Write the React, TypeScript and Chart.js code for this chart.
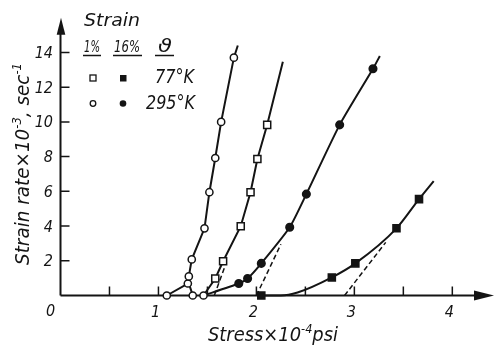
import React, { useEffect, useRef } from "react";
import { Chart, registerables } from "chart.js";

Chart.register(...registerables);

// ---------- data (stress ×10^-4 psi, strain rate ×10^-3 s^-1) ----------
// 1 % strain, 295 K (open circles)
const openCircleX = [1.085, 1.3, 1.31, 1.34, 1.35, 1.46, 1.47, 1.52, 1.58, 1.64, 1.77];
const openCircleY = [0, 0.69, 1.1, 2.08, 0, 0, 3.87, 5.95, 7.92, 10.0, 13.7];
const curve1X = [1.085, 1.3, 1.31, 1.34, 1.47, 1.52, 1.58, 1.64, 1.77, 1.81];
const curve1Y = [0, 0.69, 1.1, 2.08, 3.87, 5.95, 7.92, 10.0, 13.7, 14.4];
const branch1X = [1.35, 1.305];
const branch1Y = [0, 0.8];

// 1 % strain, 77 K (open squares)
const openSquareX = [1.58, 1.66, 1.84, 1.94, 2.01, 2.11];
const openSquareY = [0.98, 1.97, 3.99, 5.95, 7.86, 9.83];
const curve2X = [1.46, 1.58, 1.66, 1.84, 1.94, 2.01, 2.11, 2.27];
const curve2Y = [0, 0.98, 1.97, 3.99, 5.95, 7.86, 9.83, 13.47];
const dash2X = [1.57, 1.68];
const dash2Y = [0, 1.7];

// 16 % strain, 295 K (filled circles)
const filledCircleX = [1.82, 1.91, 2.05, 2.34, 2.51, 2.85, 3.19];
const filledCircleY = [0.69, 0.98, 1.85, 3.93, 5.84, 9.83, 13.06];
const curve3X = [1.46, 1.82, 1.91, 2.05, 2.34, 2.51, 2.85, 3.19, 3.26];
const curve3Y = [0, 0.69, 0.98, 1.85, 3.93, 5.84, 9.83, 13.06, 13.8];
const dash3X = [2.0, 2.25];
const dash3Y = [0, 2.95];

// 16 % strain, 77 K (filled squares)
const filledSquareX = [2.05, 2.77, 3.01, 3.43, 3.66];
const filledSquareY = [0, 1.04, 1.85, 3.87, 5.55];
const curve4X = [2.05, 2.25, 2.42, 2.77, 3.01, 3.43, 3.66, 3.81];
const curve4Y = [0, 0, 0.17, 1.04, 1.85, 3.87, 5.55, 6.59];
const dash4X = [2.9, 3.32];
const dash4Y = [0, 3.06];

// ---------- axes / labels ----------
const xTickValues = [0.5, 1, 1.5, 2, 2.5, 3, 3.5, 4];
const xLabelValues = [1, 2, 3, 4];
const yTickValues = [2, 4, 6, 8, 10, 12, 14];
const originLabel = "0";
const legendTitle = "Strain";
const strainLabels = ["1%", "16%"];
const tempSymbol = "ϑ";
const tempLabels = ["77°K", "295°K"];

const INK = "#141414";
const FONT = '"Liberation Sans Narrow", "DejaVu Sans Condensed", "Arial Narrow", sans-serif';

const pts = (xs: number[], ys: number[]) => xs.map((x, i) => ({ x, y: ys[i] }));

type Run = { t: string; sup?: boolean };

function drawRuns(
  ctx: CanvasRenderingContext2D,
  runs: Run[],
  size: number,
  x: number,
  y: number,
  align: "left" | "center" | "right",
  targetW?: number
) {
  const main = `italic ${size}px ${FONT}`;
  const sup = `italic ${Math.round(size * 0.62)}px ${FONT}`;
  const widths = runs.map((r) => {
    ctx.font = r.sup ? sup : main;
    return ctx.measureText(r.t).width;
  });
  const total = widths.reduce((a, b) => a + b, 0);
  const s = targetW ? targetW / total : 1;
  const w = total * s;
  const start = align === "left" ? x : align === "center" ? x - w / 2 : x - w;
  ctx.save();
  ctx.translate(start, y);
  ctx.scale(s, 1);
  ctx.textAlign = "left";
  ctx.textBaseline = "alphabetic";
  let cx = 0;
  runs.forEach((r, i) => {
    ctx.font = r.sup ? sup : main;
    ctx.fillText(r.t, cx, r.sup ? -size * 0.42 : 0);
    cx += widths[i];
  });
  ctx.restore();
}

const axesPlugin = {
  id: "paperAxes",
  beforeDatasetsDraw(chart: any) {
    const ctx: CanvasRenderingContext2D = chart.ctx;
    const xs = chart.scales.x;
    const ys = chart.scales.y;
    const x0 = xs.getPixelForValue(0);
    const y0 = ys.getPixelForValue(0);
    ctx.save();
    ctx.strokeStyle = INK;
    ctx.fillStyle = INK;
    ctx.lineCap = "butt";

    // axes lines
    ctx.lineWidth = 2;
    ctx.beginPath();
    ctx.moveTo(x0, y0);
    ctx.lineTo(x0, chart.chartArea.top + 14);
    ctx.moveTo(x0, y0);
    ctx.lineTo(chart.chartArea.right - 14, y0);
    ctx.stroke();

    // arrows
    const topY = chart.chartArea.top;
    ctx.beginPath();
    ctx.moveTo(x0 + 0.5, topY);
    ctx.lineTo(x0 + 4.8, topY + 17);
    ctx.lineTo(x0 - 3.8, topY + 17);
    ctx.closePath();
    ctx.fill();
    const rightX = chart.chartArea.right + 2.5;
    ctx.beginPath();
    ctx.moveTo(rightX, y0);
    ctx.lineTo(rightX - 20, y0 - 5);
    ctx.lineTo(rightX - 20, y0 + 5);
    ctx.closePath();
    ctx.fill();

    // ticks
    ctx.lineWidth = 1.5;
    ctx.beginPath();
    xTickValues.forEach((v) => {
      const px = xs.getPixelForValue(v);
      ctx.moveTo(px, y0);
      ctx.lineTo(px, y0 - 9);
    });
    yTickValues.forEach((v) => {
      const py = ys.getPixelForValue(v);
      ctx.moveTo(x0, py);
      ctx.lineTo(x0 + 9, py);
    });
    ctx.stroke();

    // tick labels
    xLabelValues.forEach((v) => {
      drawRuns(ctx, [{ t: String(v) }], 16, xs.getPixelForValue(v) - 3, y0 + 21, "center");
    });
    drawRuns(ctx, [{ t: originLabel }], 16, x0 - 10, y0 + 20, "center");
    yTickValues.forEach((v) => {
      drawRuns(ctx, [{ t: String(v) }], 16, x0 - 7.5, ys.getPixelForValue(v) + 5.5, "right");
    });

    // axis titles
    drawRuns(
      ctx,
      [{ t: "Stress×10" }, { t: "-4", sup: true }, { t: "psi" }],
      19,
      208,
      341,
      "left",
      130
    );
    ctx.save();
    ctx.translate(28.5, 164);
    ctx.rotate(-Math.PI / 2);
    drawRuns(
      ctx,
      [{ t: "Strain rate×10" }, { t: "-3", sup: true }, { t: ", sec" }, { t: "-1", sup: true }],
      19,
      0,
      0,
      "center",
      202
    );
    ctx.restore();

    // legend
    drawRuns(ctx, [{ t: legendTitle }], 17, 84, 26, "left", 56);
    drawRuns(ctx, [{ t: strainLabels[0] }], 15, 84, 51.5, "left", 16);
    drawRuns(ctx, [{ t: strainLabels[1] }], 15, 114, 51.5, "left", 26);
    drawRuns(ctx, [{ t: tempSymbol }], 17, 158, 51.5, "left", 14);
    ctx.lineWidth = 1.5;
    ctx.beginPath();
    ctx.moveTo(83, 55.5);
    ctx.lineTo(101, 55.5);
    ctx.moveTo(113, 55.5);
    ctx.lineTo(142, 55.5);
    ctx.moveTo(155, 55.5);
    ctx.lineTo(174, 55.5);
    ctx.stroke();
    drawRuns(ctx, [{ t: tempLabels[0] }], 20, 194, 82.5, "right", 39);
    drawRuns(ctx, [{ t: tempLabels[1] }], 20, 195, 108.5, "right", 49);

    // legend markers
    ctx.lineWidth = 1.3;
    ctx.fillStyle = "#fff";
    ctx.fillRect(90, 75, 6, 6);
    ctx.strokeRect(90, 75, 6, 6);
    ctx.fillStyle = INK;
    ctx.fillRect(120, 75, 6.5, 6.5);
    ctx.beginPath();
    ctx.arc(93, 103.5, 2.8, 0, Math.PI * 2);
    ctx.fillStyle = "#fff";
    ctx.fill();
    ctx.stroke();
    ctx.beginPath();
    ctx.arc(123, 103.5, 3.3, 0, Math.PI * 2);
    ctx.fillStyle = INK;
    ctx.fill();

    ctx.restore();
  },
};

export default function App() {
  const ref = useRef<HTMLCanvasElement>(null);

  useEffect(() => {
    const lineDs = (xs: number[], ys: number[], extra: any = {}) => ({
      type: "line" as const,
      data: pts(xs, ys),
      showLine: true,
      borderColor: INK,
      borderWidth: 2,
      pointRadius: 0,
      tension: 0,
      fill: false,
      clip: false as const,
      order: 2,
      ...extra,
    });
    const markDs = (xs: number[], ys: number[], style: string, filled: boolean, r: number) => ({
      type: "line" as const,
      data: pts(xs, ys),
      showLine: false,
      pointStyle: style,
      pointRadius: r,
      pointBackgroundColor: filled ? INK : "#fff",
      pointBorderColor: INK,
      pointBorderWidth: 1.5,
      clip: false as const,
      order: 1,
    });

    const chart = new Chart(ref.current as HTMLCanvasElement, {
      type: "line",
      data: {
        datasets: [
          markDs(openCircleX, openCircleY, "circle", false, 3.6),
          markDs(openSquareX, openSquareY, "rect", false, 5),
          markDs(filledCircleX, filledCircleY, "circle", true, 3.8),
          markDs(filledSquareX, filledSquareY, "rect", true, 5),
          lineDs(curve1X, curve1Y),
          lineDs(branch1X, branch1Y),
          lineDs(curve2X, curve2Y),
          lineDs(curve3X, curve3Y, { tension: 0.2 }),
          lineDs(curve4X, curve4Y, { cubicInterpolationMode: "monotone" }),
          lineDs(dash2X, dash2Y, { borderDash: [5, 3], borderWidth: 1.5 }),
          lineDs(dash3X, dash3Y, { borderDash: [5, 3], borderWidth: 1.5 }),
          lineDs(dash4X, dash4Y, { borderDash: [5, 3], borderWidth: 1.5 }),
        ] as any,
      },
      options: {
        animation: false,
        responsive: false,
        maintainAspectRatio: false,
        events: [],
        layout: { padding: { left: 60.5, right: 3.7, top: 17.74, bottom: 56.5 } },
        scales: {
          x: { type: "linear", min: 0, max: 4.4, display: false },
          y: { type: "linear", min: 0, max: 16, display: false },
        },
        plugins: {
          legend: { display: false },
          tooltip: { enabled: false },
          title: { display: false },
        },
      },
      plugins: [axesPlugin],
    });
    return () => chart.destroy();
  }, []);

  return (
    <div
      style={{
        position: "fixed",
        left: 0,
        top: 0,
        width: 498,
        height: 352,
        background: "#fff",
      }}
    >
      <canvas ref={ref} width={498} height={352} style={{ display: "block", width: 498, height: 352 }} />
    </div>
  );
}
